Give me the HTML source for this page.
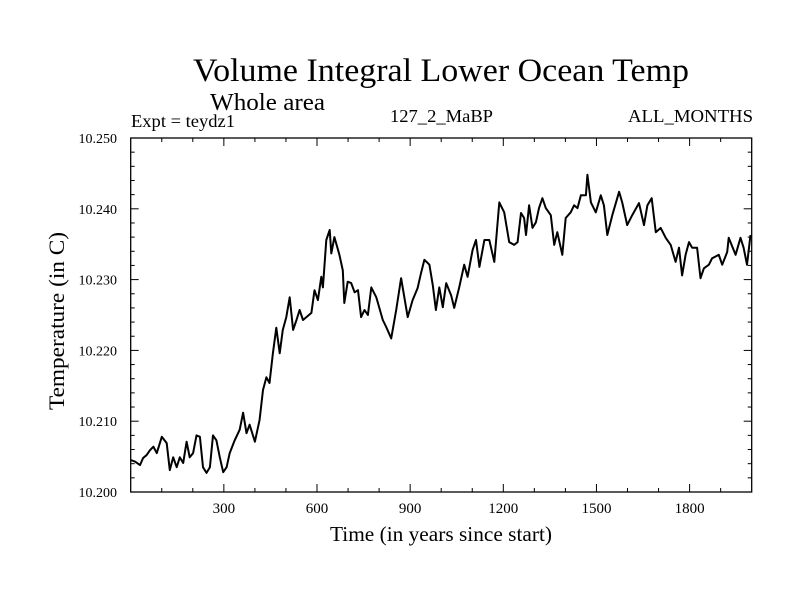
<!DOCTYPE html>
<html><head><meta charset="utf-8"><style>body{margin:0;background:#fff}svg{display:block}text{font-family:"Liberation Serif",serif;fill:#000}</style></head>
<body>
<svg id="chart" width="800" height="600">
<text x="441" y="81" font-size="33" text-anchor="middle" textLength="496" lengthAdjust="spacingAndGlyphs">Volume Integral Lower Ocean Temp</text>
<text x="210" y="110" font-size="24" textLength="115" lengthAdjust="spacingAndGlyphs">Whole area</text>
<text x="131" y="127" font-size="18" textLength="104" lengthAdjust="spacingAndGlyphs">Expt = teydz1</text>
<text x="390" y="122" font-size="18" textLength="103" lengthAdjust="spacingAndGlyphs">127_2_MaBP</text>
<text x="628" y="122" font-size="18" textLength="125" lengthAdjust="spacingAndGlyphs">ALL_MONTHS</text>
<g id="axes"></g>
<text x="330" y="541" font-size="21" textLength="222" lengthAdjust="spacingAndGlyphs">Time (in years since start)</text>
<text transform="translate(64,321) rotate(-90)" font-size="22" text-anchor="middle" textLength="178" lengthAdjust="spacingAndGlyphs">Temperature (in C)</text>
</svg>
<script>
const years=[0,14,30,40,51,62,73,84,100,116,126,137,148,158,169,180,190,201,212,223,233,244,255,265,276,287,298,309,319,335,351,362,373,383,400,415,426,437,447,458,469,480,490,501,512,523,534,544,555,566,582,592,603,614,619,630,641,646,656,672,683,688,699,710,721,732,742,753,764,775,791,812,823,839,855,871,892,908,924,935,946,962,973,983,994,1005,1016,1032,1042,1058,1074,1085,1101,1112,1123,1139,1155,1171,1187,1203,1219,1235,1246,1257,1267,1273,1283,1294,1305,1315,1326,1337,1353,1364,1374,1390,1401,1417,1428,1439,1450,1466,1471,1482,1498,1514,1524,1535,1551,1573,1583,1599,1615,1637,1653,1664,1678,1691,1707,1723,1739,1755,1766,1776,1787,1798,1808,1824,1835,1846,1862,1872,1894,1905,1921,1926,1948,1964,1974,1985,1996];
const temps=[10.2045,10.2043,10.2038,10.2048,10.2052,10.2059,10.2064,10.2055,10.2078,10.2069,10.2031,10.2049,10.2035,10.2049,10.2041,10.2071,10.2049,10.2055,10.2080,10.2078,10.2035,10.2027,10.2035,10.2080,10.2073,10.2049,10.2028,10.2035,10.2055,10.2073,10.2088,10.2112,10.2083,10.2095,10.2071,10.2102,10.2144,10.2162,10.2154,10.2196,10.2232,10.2196,10.2229,10.2247,10.2275,10.2229,10.2243,10.2257,10.2243,10.2247,10.2253,10.2285,10.2271,10.2304,10.2289,10.2356,10.2370,10.2337,10.2360,10.2335,10.2313,10.2267,10.2297,10.2295,10.2282,10.2285,10.2247,10.2257,10.2250,10.2289,10.2275,10.2243,10.2233,10.2217,10.2257,10.2302,10.2247,10.2271,10.2288,10.2309,10.2328,10.2321,10.2292,10.2257,10.2289,10.2261,10.2295,10.2278,10.2260,10.2289,10.2321,10.2304,10.2342,10.2356,10.2318,10.2356,10.2356,10.2325,10.2409,10.2395,10.2353,10.2349,10.2353,10.2394,10.2387,10.2363,10.2405,10.2373,10.2381,10.2401,10.2415,10.2401,10.2391,10.2349,10.2367,10.2335,10.2387,10.2395,10.2405,10.2401,10.2419,10.2419,10.2448,10.2409,10.2395,10.2419,10.2405,10.2363,10.2391,10.2424,10.2409,10.2377,10.2391,10.2408,10.2377,10.2405,10.2415,10.2367,10.2373,10.2359,10.2349,10.2325,10.2345,10.2306,10.2335,10.2353,10.2345,10.2345,10.2302,10.2316,10.2321,10.2330,10.2335,10.2321,10.2339,10.2359,10.2335,10.2359,10.2345,10.2321,10.2363];
const xTicks=[300,600,900,1200,1500,1800];
const yTicks=[10.200,10.210,10.220,10.230,10.240,10.250];
const X0=130.7,X1=751.7,Y0=492,Y1=138,XMIN=0,XMAX=2000,YMIN=10.2,YMAX=10.25;
const sx=v=>X0+(v-XMIN)/(XMAX-XMIN)*(X1-X0);
const sy=v=>Y0-(v-YMIN)/(YMAX-YMIN)*(Y0-Y1);
const NS='http://www.w3.org/2000/svg';
const g=document.getElementById('axes');
function mk(t,a){const e=document.createElementNS(NS,t);for(const k in a)e.setAttribute(k,a[k]);g.appendChild(e);return e;}
const fr=mk('rect',{x:X0,y:Y1,width:X1-X0,height:Y0-Y1,fill:'none',stroke:'#000','stroke-width':1.3});


for(let v=100;v<XMAX;v+=100){const major=v%300===0;const x=sx(v);
 const t=mk('line',{x1:x,x2:x,y1:Y0,y2:Y0-(major?8:4),stroke:'#000','stroke-width':1});
 
 
 const t2=mk('line',{x1:x,x2:x,y1:Y1,y2:Y1+(major?8:4),stroke:'#000','stroke-width':1});
 
 }
xTicks.forEach(v=>{const l=mk('text',{x:sx(v),y:513,'font-size':15,'text-anchor':'middle'});l.textContent=v;
 
 });
for(let i=1;i<25;i++){const v=YMIN+i*0.002;const major=i%5===0;const y=sy(v);
 const t=mk('line',{x1:X0,x2:X0+(major?8:4),y1:y,y2:y,stroke:'#000','stroke-width':1});
 
 
 const t2=mk('line',{x1:X1,x2:X1-(major?8:4),y1:y,y2:y,stroke:'#000','stroke-width':1});
 
 }
yTicks.forEach(v=>{const l=mk('text',{x:117,y:sy(v)+5,'font-size':14,'text-anchor':'end'});l.textContent=v.toFixed(3);
 
 });
const p=mk('polyline',{points:years.map((y,i)=>sx(y).toFixed(1)+','+sy(temps[i]).toFixed(1)).join(' '),fill:'none',stroke:'#000','stroke-width':2,'stroke-linejoin':'round'});


</script>
</body></html>
